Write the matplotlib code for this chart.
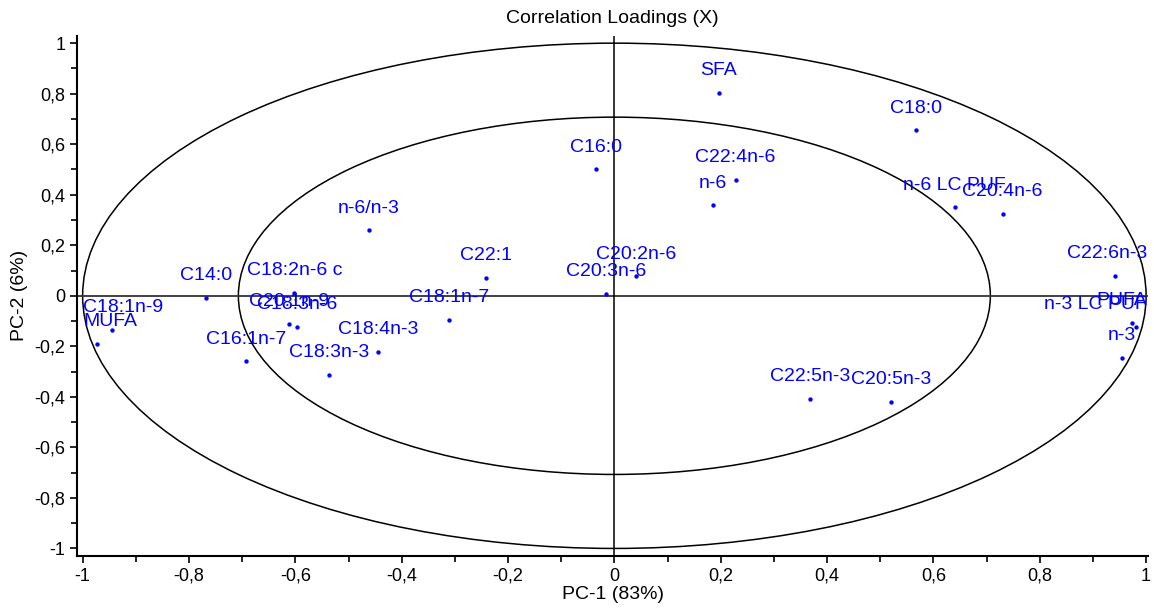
import matplotlib
matplotlib.use("Agg")
import matplotlib.pyplot as plt
from matplotlib.patches import Ellipse
from matplotlib.ticker import MultipleLocator, FuncFormatter
import numpy as np

plt.rcParams['font.family'] = ['Liberation Sans', 'DejaVu Sans']

labels = ["SFA", "C18:0", "C16:0", "C22:4n-6", "n-6", "n-6 LC PUF", "C20:4n-6",
          "C22:6n-3", "PUFA", "n-3 LC PUF", "n-3", "C22:5n-3", "C20:5n-3",
          "C20:2n-6", "C20:3n-6", "C22:1", "C18:1n-7", "n-6/n-3", "C18:4n-3",
          "C18:3n-3", "C18:2n-6 c", "C20:1n-9", "C18:3n-6", "C16:1n-7",
          "C14:0", "C18:1n-9", "MUFA"]
pc1 = [0.196, 0.567, -0.034, 0.228, 0.185, 0.640, 0.730,
       0.942, 0.974, 0.981, 0.955, 0.368, 0.521,
       0.041, -0.016, -0.241, -0.311, -0.462, -0.444,
       -0.537, -0.602, -0.611, -0.596, -0.692,
       -0.768, -0.944, -0.973]
pc2 = [0.803, 0.655, 0.500, 0.460, 0.358, 0.350, 0.323,
       0.079, -0.107, -0.123, -0.246, -0.409, -0.421,
       0.077, 0.008, 0.070, -0.095, 0.259, -0.222,
       -0.313, 0.013, -0.111, -0.123, -0.260,
       -0.009, -0.135, -0.190]

fig = plt.figure(figsize=(11.54, 6.08), dpi=100)
ax = fig.add_axes([0.067, 0.0855, 0.928, 0.856])
ax.set_xlim(-1.01, 1.004)
ax.set_ylim(-1.03, 1.03)

for r in (1.0, np.sqrt(0.5)):
    ax.add_patch(Ellipse((0, 0), 2 * r, 2 * r, fill=False, ec='black', lw=1.1))
ax.axhline(0, color='#333333', lw=1.3)
ax.axvline(0, color='black', lw=1.1)

ax.scatter(pc1, pc2, s=10, color='#0000ff', zorder=3, linewidths=0)

texts = []
for lab, x, y in zip(labels, pc1, pc2):
    t = ax.annotate(lab, (x, y), xytext=(0, 16), textcoords='offset points',
                    ha='center', va='center', color='#0000ff', fontsize=14)
    texts.append(t)

ax.spines['top'].set_visible(False)
ax.spines['right'].set_visible(False)
ax.spines['left'].set_linewidth(1.5)
ax.spines['bottom'].set_linewidth(1.5)
ax.xaxis.set_major_locator(MultipleLocator(0.2))
ax.xaxis.set_minor_locator(MultipleLocator(0.1))
ax.yaxis.set_major_locator(MultipleLocator(0.2))
ax.yaxis.set_minor_locator(MultipleLocator(0.1))
fmt = FuncFormatter(lambda v, p: ('%g' % round(v, 2)).replace('.', ','))
ax.xaxis.set_major_formatter(fmt)
ax.yaxis.set_major_formatter(fmt)
ax.tick_params(which='both', direction='out', width=1.2, labelsize=13)
ax.tick_params(which='major', length=5)
ax.tick_params(which='minor', length=4)

ax.set_xlabel("PC-1 (83%)", fontsize=14, labelpad=1)
ax.set_ylabel("PC-2 (6%)", fontsize=14, labelpad=5)
ax.set_title("Correlation Loadings (X)", fontsize=14, pad=9)

# keep labels inside plot area
fig.canvas.draw()
r = fig.canvas.get_renderer()
abox = ax.get_window_extent(r)
for t in texts:
    bb = t.get_window_extent(r)
    dx = 0
    if bb.x1 > abox.x1 - 1:
        dx = (abox.x1 - 1) - bb.x1
    elif bb.x0 < abox.x0 + 6:
        dx = (abox.x0 + 6) - bb.x0
    if dx:
        ox, oy = t.xyann
        t.xyann = (ox + dx * 72 / fig.dpi, oy)

fig.savefig("out.png", dpi=100)
